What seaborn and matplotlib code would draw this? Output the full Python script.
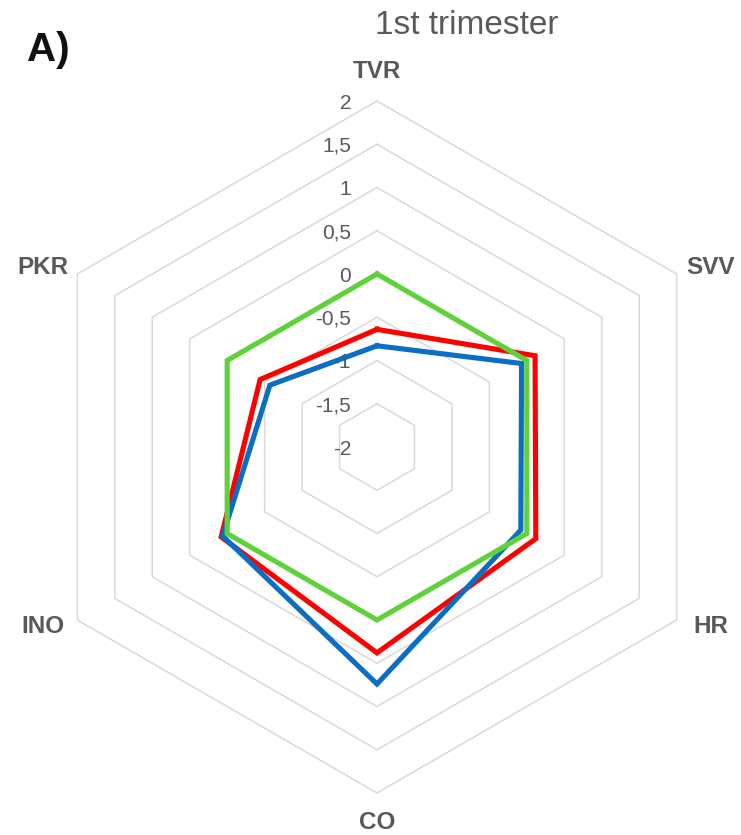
import numpy as np
import pandas as pd
import matplotlib
matplotlib.use("Agg")
import matplotlib.pyplot as plt
import seaborn as sns

# Axes of the radar, clockwise from the top
categories = ["TVR", "SVV", "HR", "CO", "INO", "PKR"]

# Standardised scores per group on each axis
red_values = [-0.64, 0.11, 0.12, 0.38, 0.08, -0.44]
blue_values = [-0.83, -0.07, -0.08, 0.74, 0.06, -0.57]
green_values = [0.0, 0.0, 0.0, 0.0, 0.0, 0.0]

# Radial scale
tick_values = [2, 1.5, 1, 0.5, 0, -0.5, -1, -1.5, -2]
tick_labels = ["2", "1,5", "1", "0,5", "0", "-0,5", "-1", "-1,5", "-2"]

sns.set_theme(style="white")
plt.rcParams["font.family"] = ["Liberation Sans", "DejaVu Sans"]

W, H, DPI = 741, 835, 100
fig = plt.figure(figsize=(W / DPI, H / DPI), dpi=DPI)
ax = fig.add_axes([0, 0, 1, 1])

r_min, r_max = min(tick_values), max(tick_values)
px_per_unit = 86.5          # pixels per unit of radius
cx_px, cy_px = 377, 447     # centre of the radar in pixels
ax.set_xlim(-cx_px / px_per_unit, (W - cx_px) / px_per_unit)
ax.set_ylim(-(H - cy_px) / px_per_unit, cy_px / px_per_unit)
ax.set_aspect("equal")
ax.axis("off")

n = len(categories)
angles = np.deg2rad(90 - 360 / n * np.arange(n))


def to_xy(values):
    r = np.asarray(values, dtype=float) - r_min
    x = r * np.cos(angles)
    y = r * np.sin(angles)
    return np.append(x, x[0]), np.append(y, y[0])


# Hexagonal grid rings
grid_color = "#d9d9d9"
for v in tick_values:
    if v == r_min:
        continue
    gx, gy = to_xy([v] * n)
    ax.plot(gx, gy, color=grid_color, lw=1.1, zorder=1,
            solid_joinstyle="miter")

# Radial tick labels along the top axis
text_gray = "#595959"
for v, lab in zip(tick_values, tick_labels):
    ax.text(-0.30, (v - r_min) - 0.025, lab, ha="right", va="center",
            fontsize=15, color=text_gray, zorder=2)

# Group profiles
series = [(red_values, "#ff0000"), (blue_values, "#0a6fc2"),
          (green_values, "#5fd13a")]
for k, (vals, col) in enumerate(series):
    sx, sy = to_xy(vals)
    df = pd.DataFrame({"x": sx, "y": sy, "order": np.arange(len(sx))})
    sns.lineplot(data=df, x="x", y="y", sort=False, estimator=None,
                 color=col, lw=3.7, ax=ax, zorder=3 + k,
                 solid_joinstyle="miter", solid_capstyle="projecting")

# Category labels around the radar
for a, name in zip(angles, categories):
    s, c = np.sin(a), np.cos(a)
    side = abs(c) > 0.1
    lx = 3.86 / 0.866 * c if side else 0.0
    ly = (2.08 / 0.5 if side else 4.34) * s
    ax.text(lx, ly, name, ha="center", va="center", fontsize=17.5,
            fontweight="bold", color=text_gray)

fig.text(467 / W, 1 - 26 / H, "1st trimester", ha="center", va="center",
         fontsize=24, color=text_gray)
fig.text(27 / W, 1 - 50 / H, "A)", ha="left", va="center",
         fontsize=29, fontweight="bold", color="#111111")

fig.savefig("out.png", dpi=DPI)
